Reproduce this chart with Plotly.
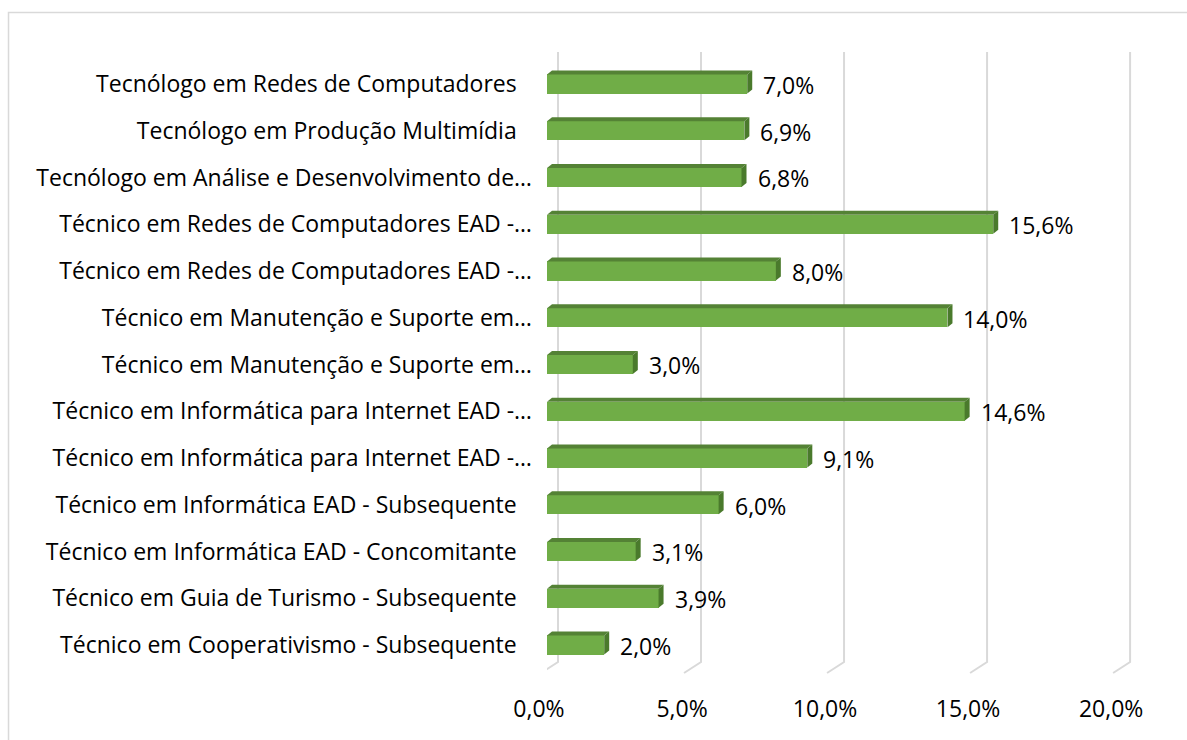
import plotly.graph_objects as go

# Data (bottom to top order, as plotted)
categories = [
    "Técnico em Cooperativismo - Subsequente",
    "Técnico em Guia de Turismo - Subsequente",
    "Técnico em Informática EAD - Concomitante",
    "Técnico em Informática EAD - Subsequente",
    "Técnico em Informática para Internet EAD -…",
    "Técnico em Informática para Internet EAD -…",
    "Técnico em Manutenção e Suporte em…",
    "Técnico em Manutenção e Suporte em…",
    "Técnico em Redes de Computadores EAD -…",
    "Técnico em Redes de Computadores EAD -…",
    "Tecnólogo em Análise e Desenvolvimento de…",
    "Tecnólogo em Produção Multimídia",
    "Tecnólogo em Redes de Computadores",
]
values = [2.0, 3.9, 3.1, 6.0, 9.1, 14.6, 3.0, 14.0, 8.0, 15.6, 6.8, 6.9, 7.0]
x_tick_values = [0, 5, 10, 15, 20]
x_tick_labels = ["0,0%", "5,0%", "10,0%", "15,0%", "20,0%"]

FONT = "Open Sans, sans-serif"
FSIZE = 23
FRONT = "#70AD47"
TOP = "#548235"
SIDE = "#4A7A2C"

positions = list(range(len(categories)))

def pad(label):
    return label if label.endswith("…") else label + "\u2002\u2009"

fig = go.Figure()
fig.add_trace(go.Bar(
    x=values, y=positions, orientation="h", width=0.41,
    marker=dict(color=FRONT, line=dict(width=0)),
    hoverinfo="skip", showlegend=False,
))

shapes = []
# chart border
shapes.append(dict(type="rect", xref="paper", yref="paper",
                   x0=-0.8756, x1=2.0, y0=1.0636, y1=-1.0,
                   line=dict(color="#D9D9D9", width=1.5), fillcolor="rgba(0,0,0,0)",
                   layer="below"))
# back-wall gridlines with floor bend
for t in x_tick_values:
    shapes.append(dict(type="path", xref="x", yref="paper", xsizemode="pixel", xanchor=t,
                       path="M 11,1 L 11,0.0177 L -6,0",
                       line=dict(color="#D9D9D9", width=2), layer="below"))
# 3D faces of bars
dx = 5 / 28.6
for p, v in zip(positions, values):
    shapes.append(dict(type="path", xref="x", yref="y", ysizemode="pixel", yanchor=p,
                       path=f"M 0,9.5 L {dx:.4f},13.5 L {v + dx:.4f},13.5 L {v},9.5 Z",
                       fillcolor=TOP, line=dict(width=0), layer="above"))
    shapes.append(dict(type="path", xref="x", yref="y", xsizemode="pixel", ysizemode="pixel",
                       xanchor=v, yanchor=p,
                       path="M 0,9.5 L 5,13.5 L 5,-5.5 L 0,-9.5 Z",
                       fillcolor=SIDE, line=dict(width=0), layer="above"))

annotations = []
for p, v in zip(positions, values):
    annotations.append(dict(x=v, y=p, xref="x", yref="y", xanchor="left", yanchor="middle",
                            text=f"{v:.1f}%".replace(".", ","), showarrow=False,
                            xshift=14, yshift=-1,
                            font=dict(family=FONT, size=FSIZE, color="#000000")))

fig.update_layout(
    width=1187, height=740,
    margin=dict(l=547, r=25, t=52, b=67),
    paper_bgcolor="white", plot_bgcolor="white",
    font=dict(family=FONT, size=FSIZE, color="#000000"),
    shapes=shapes, annotations=annotations,
    bargap=0,
)
fig.update_xaxes(range=[0, 21.5], tickvals=x_tick_values, ticktext=x_tick_labels,
                 showgrid=False, zeroline=False, showline=False, ticks="",
                 ticklabelshift=-8, ticklabelstandoff=20,
                 tickfont=dict(family=FONT, size=FSIZE, color="#000000"), fixedrange=True)
fig.update_yaxes(range=[-0.599, 12.684], tickvals=positions,
                 ticktext=[pad(c) for c in categories],
                 showgrid=False, zeroline=False, showline=False, ticks="",
                 ticklabelstandoff=14,
                 tickfont=dict(family=FONT, size=FSIZE, color="#000000"), fixedrange=True)

fig.write_html("out.html", config={"displayModeBar": False},
               post_script="document.body.style.margin='0';document.body.style.overflow='hidden';")
